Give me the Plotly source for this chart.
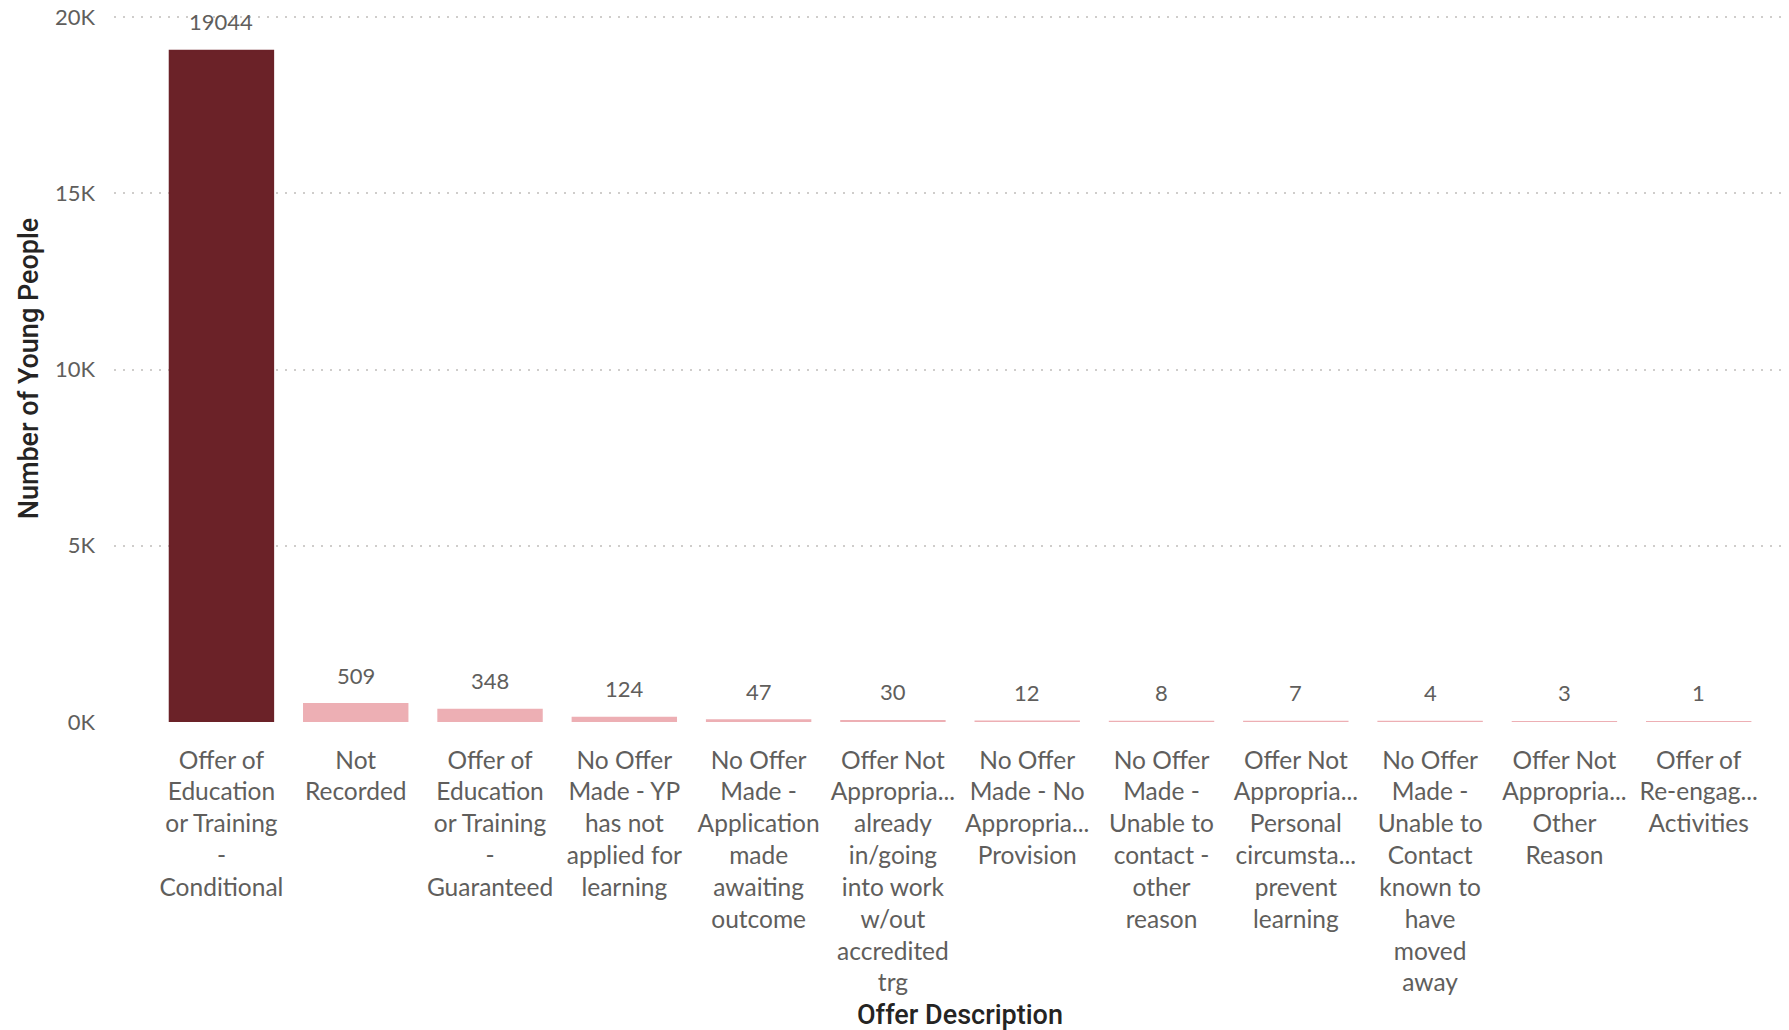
import plotly.graph_objects as go

categories = [
    "Offer of Education or Training - Conditional",
    "Not Recorded",
    "Offer of Education or Training - Guaranteed",
    "No Offer Made - YP has not applied for learning",
    "No Offer Made - Application made awaiting outcome",
    "Offer Not Appropria... already in/going into work w/out accredited trg",
    "No Offer Made - No Appropria... Provision",
    "No Offer Made - Unable to contact - other reason",
    "Offer Not Appropria... Personal circumsta... prevent learning",
    "No Offer Made - Unable to Contact known to have moved away",
    "Offer Not Appropria... Other Reason",
    "Offer of Re-engag... Activities",
]
tick_labels = [
    "Offer of<br>Education<br>or Training<br>-<br>Conditional",
    "Not<br>Recorded",
    "Offer of<br>Education<br>or Training<br>-<br>Guaranteed",
    "No Offer<br>Made - YP<br>has not<br>applied for<br>learning",
    "No Offer<br>Made -<br>Application<br>made<br>awaiting<br>outcome",
    "Offer Not<br>Appropria...<br>already<br>in/going<br>into work<br>w/out<br>accredited<br>trg",
    "No Offer<br>Made - No<br>Appropria...<br>Provision",
    "No Offer<br>Made -<br>Unable to<br>contact -<br>other<br>reason",
    "Offer Not<br>Appropria...<br>Personal<br>circumsta...<br>prevent<br>learning",
    "No Offer<br>Made -<br>Unable to<br>Contact<br>known to<br>have<br>moved<br>away",
    "Offer Not<br>Appropria...<br>Other<br>Reason",
    "Offer of<br>Re-engag...<br>Activities",
]
values = [19044, 509, 348, 124, 47, 30, 12, 8, 7, 4, 3, 1]
y_tick_vals = [0, 5000, 10000, 15000, 20000]
y_tick_text = ["0K", "5K", "10K", "15K", "20K"]
x_title = "Offer Description"
y_title = "Number of Young People"

DARK = "#6B2228"
PINK = "#EDAFB4"
colors = [DARK] + [PINK] * (len(values) - 1)
TITLE_FONT = dict(family="Roboto", size=27, color="#252423", weight=500)

fig = go.Figure()
fig.add_trace(go.Bar(
    x=categories,
    y=values,
    width=0.77,
    marker=dict(color=colors, line=dict(color=colors, width=2)),
    hoverinfo="x+y",
))

for c, v in zip(categories, values):
    fig.add_annotation(
        x=c, y=v, text=str(v), showarrow=False,
        yanchor="middle", yshift=29,
        font=dict(family="Lato", size=22, color="#605E5C"),
    )

# x-axis title
fig.add_annotation(
    x=0.5, y=0, xref="paper", yref="paper", text=x_title, showarrow=False,
    xanchor="center", yanchor="middle", xshift=10, yshift=-293,
    font=TITLE_FONT,
)

fig.update_layout(
    width=1789, height=1030,
    margin=dict(l=114, r=3, t=15, b=308),
    paper_bgcolor="white", plot_bgcolor="white",
    showlegend=False,
    xaxis=dict(
        tickmode="array", tickvals=categories, ticktext=tick_labels,
        range=[-0.80, 11.65],
        tickfont=dict(family="Lato", size=24.5, color="#605E5C"),
        tickangle=0,
        showgrid=False, zeroline=False, showline=False,
        ticks="", ticklabelstandoff=21,
        automargin=False,
    ),
    yaxis=dict(
        range=[0, 20060],
        tickmode="array", tickvals=y_tick_vals, ticktext=y_tick_text,
        tickfont=dict(family="Lato", size=22, color="#605E5C"),
        showgrid=True, gridcolor="#CFCDCB", gridwidth=2, griddash="2px,7px",
        zeroline=False, showline=False, ticks="", ticklabelstandoff=18,
        title=dict(text=y_title, standoff=8, font=TITLE_FONT),
        automargin=False,
    ),
)

fig.write_html("out.html", config={"displayModeBar": False},
               post_script="document.body.style.margin='0';")
